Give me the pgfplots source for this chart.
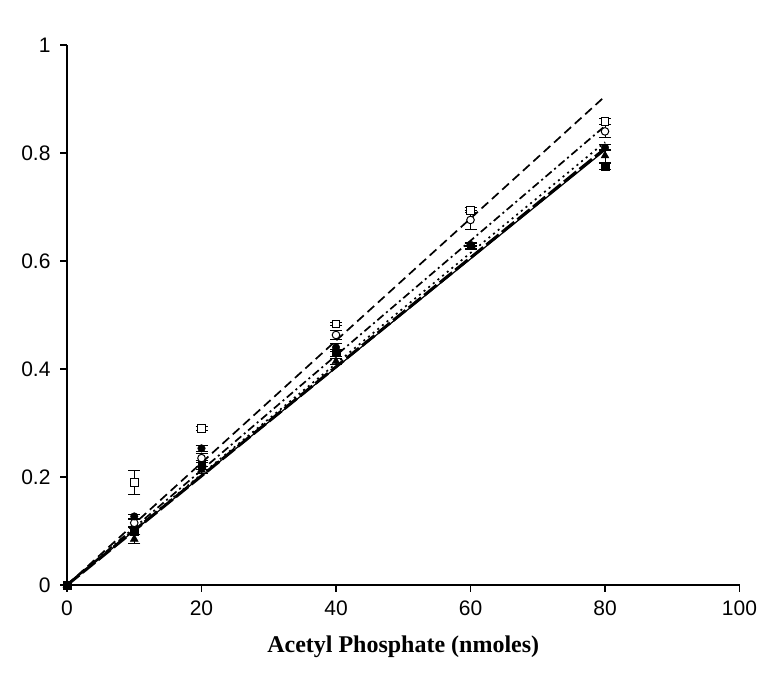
\documentclass[border=0pt]{standalone}
\usepackage{fontspec}
\setmainfont{Liberation Sans}
\newfontfamily\timesfont{Liberation Serif}
\usepackage{pgfplots}
\pgfplotsset{compat=1.18}
\begin{document}
\begin{tikzpicture}
\useasboundingbox (-67pt,-111pt) rectangle (717pt,585pt);
\begin{axis}[at={(0,0)}, anchor=south west, scale only axis,
  width=672.5pt, height=540pt,
  xmin=0, xmax=100, ymin=0, ymax=1,
  axis x line*=bottom, axis y line*=left,
  axis line style={line width=1.1pt},
  xtick={0,20,40,60,80,100}, ytick={0,0.2,0.4,0.6,0.8,1},
  tick align=outside, major tick length=7pt,
  tick style={black, line width=1.1pt},
  /pgf/number format/assume math mode=true,
  ticklabel style={font=\fontsize{21}{22}\selectfont},
  xticklabel style={yshift=-5pt},
  yticklabel style={xshift=-6pt},
  xlabel={\timesfont\bfseries Acetyl Phosphate (nmoles)},
  xlabel style={font=\fontsize{24}{26}\selectfont, yshift=-14pt},
  clip=false,
  error bars/error bar style={black, line width=1pt},
  error bars/error mark options={rotate=90, mark size=6pt, line width=1pt},
]
% trend lines
\addplot[black, line width=1.7pt, dash pattern=on 9pt off 5pt] coordinates {(0,0) (80,0.905)};
\addplot[black, line width=1.7pt, dash pattern=on 8pt off 3.5pt on 2pt off 3.5pt] coordinates {(0,0) (80,0.85)};
\addplot[black, line width=1.7pt, dash pattern=on 2pt off 4pt] coordinates {(0,0) (80,0.82)};
\addplot[black, line width=3pt, dash pattern=on 16pt off 4pt] coordinates {(0,0) (80,0.808)};
\addplot[black, line width=1.2pt] coordinates {(0,0) (80,0.805)};
% open squares
\addplot[black, only marks, mark=square*, mark size=3.8pt, mark options={fill=white, line width=1pt},
  error bars/.cd, y dir=both, y explicit] coordinates {
  (0,0) +- (0,0)
  (10,0.19) +- (0,0.022)
  (20,0.29) +- (0,0.003)
  (40,0.483) +- (0,0.003)
  (60,0.694) +- (0,0.005)
  (80,0.858) +- (0,0.006)
};
% open circles
\addplot[black, only marks, mark=*, mark size=3.8pt, mark options={fill=white, line width=1pt},
  error bars/.cd, y dir=both, y explicit] coordinates {
  (0,0) +- (0,0)
  (10,0.115) +- (0,0.006)
  (20,0.235) +- (0,0.008)
  (40,0.463) +- (0,0.008)
  (60,0.676) +- (0,0.018)
  (80,0.84) +- (0,0.012)
};
% filled circles
\addplot[black, only marks, mark=*, mark size=3.8pt,
  error bars/.cd, y dir=both, y explicit] coordinates {
  (0,0) +- (0,0)
  (10,0.127) +- (0,0.004)
  (20,0.253) +- (0,0.005)
  (40,0.44) +- (0,0.008)
  (60,0.63) +- (0,0.004)
  (80,0.81) +- (0,0.006)
};
% filled squares
\addplot[black, only marks, mark=square*, mark size=3.8pt,
  error bars/.cd, y dir=both, y explicit] coordinates {
  (0,0) +- (0,0)
  (10,0.1) +- (0,0.006)
  (20,0.222) +- (0,0.008)
  (40,0.43) +- (0,0.006)
  (60,0.628) +- (0,0.004)
  (80,0.775) +- (0,0.006)
};
% filled triangles
\addplot[black, only marks, mark=triangle*, mark size=4.6pt,
  error bars/.cd, y dir=both, y explicit] coordinates {
  (0,0) +- (0,0)
  (10,0.085) +- (0,0.008)
  (20,0.213) +- (0,0.006)
  (40,0.414) +- (0,0.006)
  (60,0.625) +- (0,0.004)
  (80,0.795) +- (0,0.012)
};
\end{axis}
\end{tikzpicture}
\end{document}
